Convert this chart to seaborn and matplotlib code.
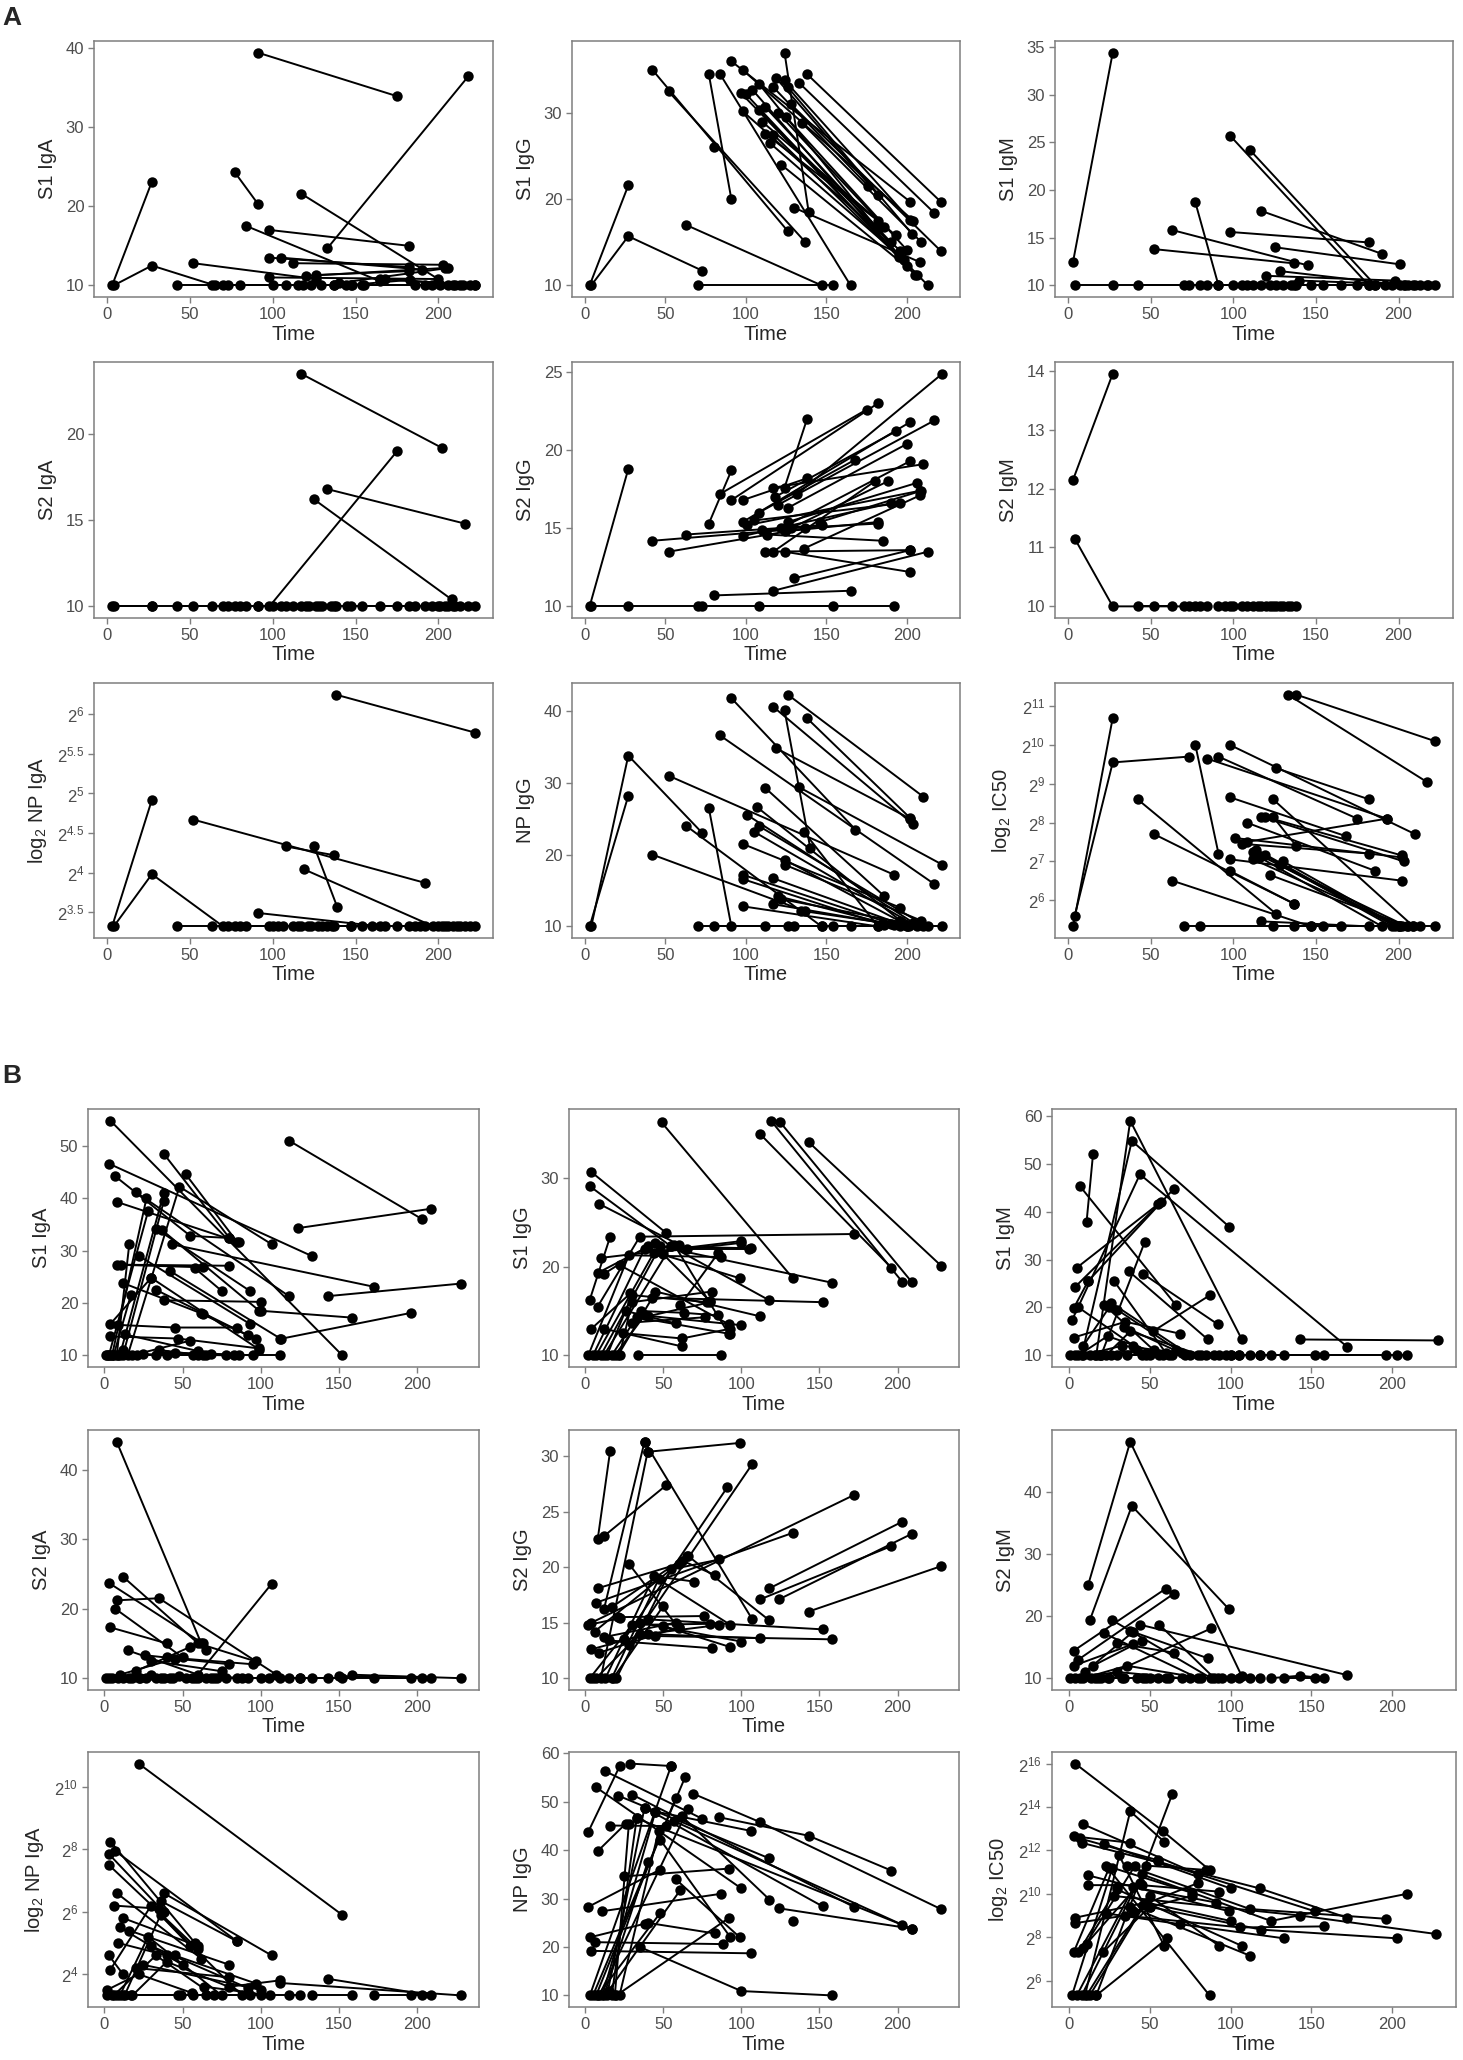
import numpy as np
import pandas as pd
import matplotlib
matplotlib.use("Agg")
import matplotlib.pyplot as plt
import seaborn as sns

sns.set_theme(style="ticks")
plt.rcParams["font.family"] = ["Liberation Sans", "DejaVu Sans"]
plt.rcParams["mathtext.fontset"] = "custom"
plt.rcParams["mathtext.rm"] = "Liberation Sans"
plt.rcParams["mathtext.it"] = "Liberation Sans:italic"


# ---------------- group A (each tuple = one subject: times / values) ----------------
a_s1_iga_t = [(3, 27), (4, 27, 65), (42, 137), (52, 126), (63, 147), (70, 154), (73,), (77, 91),
              (84, 165), (91, 175), (98, 182), (98, 182), (105, 190), (112, 203), (117, 206),
              (120, 204), (126, 182), (133, 218), (140, 206), (148, 210), (155, 213), (165, 222),
              (168, 222), (100, 186), (108, 192), (115, 196), (118, 201), (123, 209), (129, 215),
              (137, 219), (144, 183), (98, 200), (80,)]
a_s1_iga_v = [(10, 23.1), (10, 12.5, 10), (10, 10), (12.8, 10.8), (10, 10), (10, 10), (10,), (24.3, 20.3),
              (17.5, 10.5), (39.4, 33.9), (17, 15), (13.5, 12.3), (13.5, 12), (12.8, 12.6), (21.6, 10),
              (11.2, 12.2), (11.3, 11.8), (14.7, 36.4), (10.3, 12.2), (10, 10), (10, 10), (10.8, 10),
              (10.8, 10), (10, 10), (10, 10), (10, 10), (10, 10), (10, 10), (10, 10),
              (10, 10), (10, 10.7), (11, 10.8), (10,)]

a_s1_igg_t = [(3, 27), (4, 27, 73), (42, 126), (52, 137), (63, 147), (70, 154), (77, 91), (84, 165),
              (80,), (91, 202), (98, 204), (97, 213), (98, 196), (100, 200), (104, 205), (108, 195),
              (108, 182), (112, 190), (112, 182), (117, 176), (117, 195), (119, 182), (120, 186),
              (122, 206), (124, 139), (124, 202), (126, 203), (130, 208), (133, 217), (135, 209),
              (138, 221), (128, 221), (115, 198), (110, 193), (125, 200)]
a_s1_igg_v = [(10, 21.6), (10, 15.7, 11.7), (35, 16.3), (32.5, 15), (17, 10), (10, 10), (34.5, 20), (34.5, 10),
              (26,), (36, 19.7), (35, 17.5), (32.3, 10), (30.2, 14), (32.2, 12.2), (32.7, 11.2), (33.4, 13.5),
              (30.3, 16.5), (30.7, 15), (27.6, 17.5), (33, 21.5), (27.5, 13.3), (34, 20.5), (30, 16.8),
              (24, 11.2), (37, 18.5), (33.8, 17.6), (33, 16), (19, 12.7), (33.5, 18.4), (28.8, 15),
              (34.5, 19.7), (31, 14), (26.5, 13), (29, 15.8), (29.5, 14.1)]

a_s1_igm_t = [(3, 27), (4, 27, 73), (42, 137), (52, 137), (63, 145), (70, 154), (77, 91), (80, 165),
              (84, 175), (98, 182), (98, 182), (110, 186), (117, 190), (125, 201), (91, 182), (100, 186),
              (105, 192), (108, 196), (112, 201), (117, 204), (122, 206), (126, 209), (130, 213),
              (135, 217), (138, 222), (120, 198), (128, 203), (140, 218), (147, 210)]
a_s1_igm_v = [(12.5, 34.4), (10, 10, 10), (10, 10), (13.8, 12.3), (15.8, 12.1), (10, 10), (18.7, 10), (10, 10),
              (10, 10), (25.7, 10), (15.6, 14.5), (24.2, 10), (17.8, 13.3), (14, 12.2), (10, 10), (10, 10),
              (10, 10), (10, 10), (10, 10), (10, 10), (10, 10), (10, 10), (10, 10),
              (10, 10), (10, 10), (11, 10.5), (11.5, 10), (10.5, 10), (10, 10)]

a_s2_iga_t = [(3, 27), (4, 27, 73), (42, 137), (52, 126), (63, 147), (70, 154), (77, 91), (80, 165),
              (84, 175), (98, 175), (117, 202), (125, 208), (133, 216), (91, 182), (100, 186), (105, 192),
              (108, 196), (112, 201), (117, 204), (120, 206), (122, 209), (128, 213), (130, 218),
              (135, 222), (138, 210), (145, 200)]
a_s2_iga_v = [(10, 10), (10, 10, 10), (10, 10), (10, 10), (10, 10), (10, 10), (10, 10), (10, 10),
              (10, 10), (10, 19), (23.5, 19.2), (16.2, 10.4), (16.8, 14.8), (10, 10), (10, 10), (10, 10),
              (10, 10), (10, 10), (10, 10), (10, 10), (10, 10), (10, 10), (10, 10),
              (10, 10), (10, 10), (10, 10)]

a_s2_igg_t = [(3, 27), (4, 27, 73), (70, 154), (108, 192), (42, 125), (52, 137), (63, 147), (77, 91),
              (84, 175), (80, 165), (91, 182), (98, 138), (98, 202), (98, 190), (101, 208), (105, 196),
              (108, 168), (112, 202), (117, 213), (130, 202), (113, 185), (117, 210), (118, 193),
              (120, 217), (124, 138), (124, 182), (124, 202), (126, 200), (126, 206), (132, 222),
              (136, 208), (128, 188), (146, 209), (122, 202), (110, 182), (117, 180)]
a_s2_igg_v = [(10, 18.8), (10, 10, 10), (10, 10), (10, 10), (14.2, 14.9), (13.5, 15), (14.6, 15.2), (15.3, 18.7),
              (17.2, 22.6), (10.7, 11), (16.8, 23), (16.8, 18.2), (15.4, 21.8), (14.5, 16.6), (15.2, 17.4), (15.5, 16.6),
              (16, 19.4), (13.5, 13.6), (11, 13.5), (11.8, 13.6), (14.6, 14.2), (17.6, 19.1), (17, 21.2),
              (16.5, 21.9), (17.6, 22), (14.8, 15.4), (13.5, 12.2), (16.3, 20.4), (15.4, 17.9), (17.2, 24.9),
              (13.7, 17.1), (15, 18), (15.4, 17.4), (15, 19.3), (14.9, 15.3), (13.5, 18)]

a_s2_igm_t = [(3, 27), (4, 27, 73), (42, 63), (52,), (70, 77), (80, 84), (91, 98), (100,), (105, 108),
              (112, 117), (120, 122), (124, 126), (128, 130), (133, 135), (138,), (115,), (95,)]
a_s2_igm_v = [(12.15, 13.95), (11.15, 10, 10), (10, 10), (10,), (10, 10), (10, 10), (10, 10), (10,), (10, 10),
              (10, 10), (10, 10), (10, 10), (10, 10), (10, 10), (10,), (10,), (10,)]

# log2 titres
a_np_iga_t = [(3, 27), (4, 27, 70), (52, 192), (108, 137), (125, 139), (119, 197), (91, 165), (138, 222),
              (42, 137), (63, 147), (73, 154), (77, 160), (80, 168), (84, 175), (98, 182), (100, 186),
              (103, 189), (106, 192), (112, 200), (115, 202), (117, 204), (121, 206), (123, 209),
              (127, 211), (130, 213), (133, 216), (136, 219), (147, 222)]
a_np_iga_v = [(3.32, 4.92), (3.32, 3.98, 3.32), (4.67, 3.87), (4.33, 4.22), (4.33, 3.56), (4.04, 3.32), (3.49, 3.32), (6.25, 5.77),
              (3.32, 3.32), (3.32, 3.32), (3.32, 3.32), (3.32, 3.32), (3.32, 3.32), (3.32, 3.32), (3.32, 3.32), (3.32, 3.32),
              (3.32, 3.32), (3.32, 3.32), (3.32, 3.32), (3.32, 3.32), (3.32, 3.32), (3.32, 3.32), (3.32, 3.32),
              (3.32, 3.32), (3.32, 3.32), (3.32, 3.32), (3.32, 3.32), (3.32, 3.32)]

a_np_igg_t = [(3, 27), (4, 27, 73), (42, 137), (52, 192), (63, 147), (77, 91), (70, 154), (80, 165),
              (84, 217), (91, 168), (98, 196), (98, 190), (98, 186), (98, 182), (101, 204), (105, 206),
              (107, 196), (108, 209), (112, 186), (117, 204), (117, 200), (117, 192), (119, 202),
              (120, 185), (122, 210), (124, 140), (124, 200), (124, 209), (126, 210), (133, 222),
              (136, 182), (138, 202), (134, 200), (112, 196), (126, 213), (130, 222), (147, 201)]
a_np_igg_v = [(10, 28.2), (10, 33.8, 23), (20, 12.1), (31, 17.2), (24, 10), (26.5, 10), (10, 10), (10, 10),
              (36.6, 15.9), (41.8, 23.5), (21.5, 12.6), (17.2, 10.4), (16.6, 10.2), (12.8, 10), (25.5, 10.5), (23.2, 10),
              (26.6, 10.8), (24, 10.4), (29.3, 14.2), (40.6, 24.2), (16.7, 10), (13.1, 10.2), (34.8, 25),
              (14.2, 10.5), (13.8, 10), (40.1, 20.9), (19.3, 10.2), (18.6, 10.8), (42.3, 28.1), (29.4, 18.6),
              (23.2, 10), (39, 25.1), (12.2, 10), (10, 10), (10, 10), (10, 10), (10, 10)]

a_ic50_t = [(3, 27), (4, 27, 73), (42, 126), (52, 137), (63, 147), (70, 80, 154), (77, 91), (84, 193),
            (91, 175), (98, 210), (126, 182), (98, 168), (98, 202), (98, 137), (101, 202), (105, 182),
            (108, 186), (108, 193), (112, 200), (112, 202), (117, 203), (119, 202), (119, 196),
            (122, 206), (124, 209), (124, 138), (130, 200), (133, 217), (138, 222), (117, 182),
            (124, 209), (137, 213), (147, 201), (165, 222), (128, 205), (114, 198), (116, 190)]
a_ic50_v = [(5.32, 10.7), (5.6, 9.55, 9.7), (8.6, 5.64), (7.7, 5.9), (6.5, 5.32), (5.32, 5.32, 5.32), (10, 7.2), (9.65, 8.1),
            (9.7, 8.1), (10, 7.7), (9.4, 8.6), (8.65, 7.65), (7.05, 6.5), (6.75, 5.9), (7.6, 7.1), (7.45, 7.2),
            (8.0, 6.75), (7.5, 8.1), (7.25, 5.32), (7.05, 5.32), (8.15, 7.0), (8.15, 7.15), (7.15, 5.32),
            (6.65, 5.32), (8.6, 5.32), (8.15, 7.4), (7.0, 5.32), (11.3, 9.05), (11.3, 10.1), (5.45, 5.32),
            (5.32, 5.32), (5.32, 5.32), (5.32, 5.32), (5.32, 5.32), (6.9, 5.32), (7.3, 5.32), (7.1, 5.32)]

# ---------------- group B ----------------
b_s1_iga_t = [(4, 152), (3, 133), (7, 55, 80), (8, 86), (20, 118), (38, 80), (52, 85), (15, 48, 107),
              (5, 27), (10, 38), (12, 38), (8, 16), (8, 63), (11, 80), (12, 62), (3, 28), (33, 93),
              (37, 99), (43, 172), (42, 113), (30, 99), (22, 93), (33, 92), (38, 100), (63, 97),
              (143, 228), (124, 209), (118, 203), (112, 196), (100, 158), (4, 30), (9, 45, 85),
              (4, 47, 99), (2, 60, 112), (5, 18, 55), (21, 33, 65), (6, 17), (13, 60), (40, 57, 86),
              (25, 78), (35, 63), (45, 83), (68, 95), (58, 75), (3, 12), (1, 9)]
b_s1_iga_v = [(54.8, 10), (46.6, 28.9), (44.2, 32.8, 32.4), (39.3, 31.6), (41.2, 21.3), (48.5, 32.4), (44.6, 31.6), (10, 42.2, 31.2),
              (10, 40), (10, 41), (10, 39.4), (10, 31.2), (27.3, 26.8), (27.3, 27.1), (23.8, 18), (10, 37.5), (34.2, 22.3),
              (33.9, 18.5), (31.2, 23.1), (26.1, 13.1), (24.8, 11.1), (29, 16), (22.5, 13.8), (20.5, 20.2), (17.8, 13.1),
              (21.3, 23.7), (34.3, 38), (51, 36), (13.1, 18.1), (18.5, 17.2), (16, 24.8), (15.8, 15.3, 15.3),
              (13.6, 13.2, 11.3), (10, 10, 10), (10, 10, 12.8), (10, 10, 10), (10, 21.5), (14, 10.8), (10, 10, 10),
              (10.2, 10), (11, 10), (10.5, 10), (10.3, 10), (26.6, 22.3), (10, 11), (10, 10)]

b_s1_igg_t = [(4, 52), (3, 55), (9, 60), (49, 133), (112, 196), (119, 203), (125, 209), (143, 228),
              (3, 16), (10, 100), (8, 45), (12, 40, 106), (22, 92), (8, 35, 172), (4, 29), (12, 62),
              (2, 28, 87), (5, 38, 99), (7, 44, 100), (10, 48, 158), (12, 55, 118), (14, 30, 78),
              (17, 33, 93), (19, 38, 100), (21, 43, 152), (22, 30, 81), (34, 87), (24, 62, 93),
              (26, 58), (36, 63, 85), (30, 77), (45, 112), (50, 80), (57, 92), (65, 105), (61, 85), (40, 80)]
b_s1_igg_v = [(30.7, 23.8), (29.1, 22.3), (27.1, 22.5), (36.3, 18.7), (35, 19.9), (36.5, 18.3), (36.3, 18.3), (34.1, 20.1),
              (16.3, 23.4), (21, 22.9), (19.3, 22.7), (19.2, 22.3, 22.1), (20.2, 13.5), (15.5, 23.4, 23.7), (13, 17), (13, 11),
              (10, 21.3, 21.1), (10, 22, 18.7), (10, 21.6, 22.7), (10, 22.3, 18.2), (10, 22.3, 16.2), (10, 16.8, 16),
              (10, 14.3, 12.4), (10, 14.5, 13.4), (10, 16.5, 16), (10, 16, 17.2), (10, 10), (12.5, 11.9, 13),
              (15, 13.6), (15, 14.8, 14.5), (13.7, 14.3), (17.2, 14.4), (21.4, 16.1), (22.5, 12.4), (22, 22), (15.7, 21.5), (14.4, 16)]

b_s1_igm_t = [(17, 38, 107), (8, 39, 99), (2, 44, 172), (11, 15), (7, 66), (5, 55), (4, 57), (12, 65),
              (3, 12), (143, 228), (20, 47), (37, 86), (46, 92), (52, 87), (3, 35, 69), (28, 60),
              (22, 56), (26, 75), (30, 70), (34, 66), (6, 40), (9, 25), (1, 20, 50), (4, 30, 64),
              (6, 24, 58), (9, 33, 80), (13, 42, 90), (16, 48, 100), (19, 53, 105), (23, 38, 82),
              (26, 45, 93), (36, 62, 112), (97, 152, 209), (118, 196), (105, 203), (125, 158), (133,),
              (72, 118), (85, 100)]
b_s1_igm_v = [(10, 59, 13.3), (10, 54.8, 36.9), (17.3, 47.8, 11.8), (37.8, 52), (45.3, 20.6), (28.3, 41.5), (24.3, 42), (25.5, 44.8),
              (19.8, 25.5), (13.3, 13.1), (10, 33.7), (27.6, 13.3), (27, 16.5), (15, 22.5), (13.7, 17, 14.5), (25.5, 10.5),
              (20.5, 10), (21, 10), (19.5, 10.5), (16, 11), (20, 12), (12, 20), (10, 10, 10), (10, 10, 10),
              (10, 14, 10), (10, 12, 10), (10, 11, 10), (10, 10, 10), (10, 11, 10), (10, 15, 10),
              (10, 10, 10), (10, 10, 10), (10, 10, 10), (10, 10), (10, 10), (10, 10), (10,),
              (10, 10), (10, 10)]

b_s2_iga_t = [(8, 62), (3, 63), (12, 65), (8, 35, 110), (58, 107), (7, 50), (4, 40), (15, 60), (26, 80),
              (40, 95), (20, 55), (30, 75), (10, 45), (1, 23, 65), (3, 30, 70), (5, 38, 85), (9, 44, 92),
              (12, 48, 100), (16, 52, 105), (18, 56, 112), (22, 60, 118), (27, 68, 125), (33, 72, 133),
              (36, 78, 143), (42, 88, 152), (150, 203, 209), (158, 228), (125, 196), (172,), (60, 97)]
b_s2_iga_v = [(44, 15), (23.7, 15), (24.6, 14), (21.2, 21.5, 10.5), (10, 23.6), (20, 13), (17.3, 15), (14, 10.5), (13.3, 12),
              (13, 12), (11, 14.5), (12.5, 11), (10.5, 12.8), (10, 10, 10), (10, 10.5, 10), (10, 10, 10), (10, 10, 10),
              (10, 10.3, 10), (10, 10, 10), (10, 10, 10), (10, 10, 10), (10, 10, 10), (10, 10, 10),
              (10, 10, 10), (10, 10, 10), (10.3, 10, 10), (10.5, 10), (10, 10), (10,), (15, 12.4)]

b_s2_igg_t = [(38, 107), (40, 99), (8, 16), (12, 52), (12, 38), (10, 40), (28, 107), (25, 91), (4, 172),
              (7, 133), (8, 60), (28, 60), (112, 196), (118, 203), (124, 209), (143, 228), (66, 118),
              (40, 152), (45, 158), (21, 76), (35, 100), (50, 93), (15, 81), (4, 40, 86), (9, 60),
              (17, 47, 93), (3, 30, 80), (7, 35, 112), (13, 44, 70), (20, 55, 86), (6, 62, 83), (12, 58),
              (2, 22), (5, 18, 50), (17, 65)]
b_s2_igg_v = [(31.3, 15.3), (30.4, 31.2), (22.5, 30.5), (22.8, 27.4), (16.2, 31.3), (10, 30.4), (13, 29.3), (13.5, 27.2), (15, 26.5),
              (16.8, 23.1), (18.1, 20.3), (20.3, 14.5), (17.1, 21.9), (18.1, 24.1), (17.1, 23), (16, 20.1), (21, 15.2),
              (15.3, 14.4), (13.8, 13.5), (15.5, 15.6), (15, 13.3), (14.7, 12.8), (13.4, 12.7), (12.6, 14, 14.8), (12.3, 14.6),
              (10, 18.9, 14.8), (10, 14.8, 14.9), (10, 14, 13.6), (10, 19.2, 18.7), (10, 19.8, 20.7), (14.2, 20.6, 19.3), (13.7, 15),
              (14.8, 15.4), (10, 10, 16.5), (16.4, 21)]

b_s2_igm_t = [(12, 38, 107), (13, 39, 99), (3, 60), (6, 65), (22, 80), (27, 88), (44, 172), (56, 90),
              (20, 88), (30, 65), (38, 86), (3, 40), (1, 25, 60), (4, 30, 70), (7, 33, 75), (9, 36, 82),
              (14, 42, 92), (16, 46, 95), (18, 50, 100), (24, 55, 105), (34, 62, 112), (48, 118),
              (125, 143, 158), (133, 152), (10, 40), (15, 45)]
b_s2_igm_v = [(25, 48, 10.3), (19.3, 37.7, 21.1), (14.4, 24.4), (13, 23.6), (17.2, 10), (19.3, 10), (18.6, 10.5), (18.6, 10),
              (10, 18), (15.6, 14.1), (17.6, 13.2), (12, 15.5), (10, 10, 10), (10, 11, 10), (10, 10, 10), (10, 12, 10),
              (10, 10, 10), (10, 10, 10), (10, 10, 10), (10, 10, 10), (10, 10, 10), (10, 10),
              (10, 10.4, 10), (10, 10), (11, 17.5), (12, 16)]

# log2 titres
b_np_iga_t = [(22, 152), (4, 58), (3, 38), (7, 85), (3, 60), (8, 62), (6, 35), (38, 107), (36, 85),
              (12, 60), (10, 50), (16, 80), (9, 40), (4, 30, 55), (143, 209), (112, 228), (20, 80),
              (30, 92), (25, 100), (45, 97), (3, 12), (2, 17, 47), (5, 12, 65), (8, 49, 100),
              (6, 33, 70), (10, 28, 75), (13, 36, 88), (18, 40, 93), (2, 22, 56), (57, 118, 125),
              (133, 158), (172, 196, 203), (64, 106), (80, 112)]
b_np_iga_v = [(10.75, 5.9), (8.25, 5.0), (7.85, 6.0), (7.95, 5.05), (7.5, 4.8), (6.6, 4.5), (6.2, 6.1), (6.6, 4.6), (6.35, 5.05),
              (5.8, 4.9), (5.5, 4.3), (5.4, 4.3), (5.0, 4.6), (4.15, 6.2, 4.9), (3.85, 3.32), (3.72, 3.32), (4.2, 3.9),
              (4.9, 3.55), (4.3, 3.5), (4.6, 3.7), (4.6, 4.0), (3.32, 3.32, 3.32), (3.32, 3.32, 3.32), (3.32, 3.32, 3.32),
              (3.32, 4.6, 3.32), (3.32, 5.2, 3.32), (3.32, 5.9, 3.32), (3.32, 4.4, 3.32), (3.5, 4.0, 3.4), (3.32, 3.32, 3.32),
              (3.32, 3.32), (3.32, 3.32, 3.32), (3.6, 3.32), (3.6, 3.8)]

b_np_igg_t = [(2, 22), (13, 75), (29, 55), (7, 100), (21, 118), (30, 172), (69, 112, 228), (86, 143, 196),
              (38, 152), (45, 106), (33, 209), (57, 203), (62, 118), (124, 209), (133,), (8, 26), (16, 52),
              (2, 48), (3, 38), (4, 106), (35, 100, 158), (6, 88), (11, 87), (25, 92), (48, 93), (58, 99),
              (40, 83), (3, 55), (5, 64), (7, 58), (9, 66), (11, 45), (14, 38), (17, 33), (19, 28),
              (22, 47), (12, 40), (8, 48), (15, 61), (20, 92)]
b_np_igg_v = [(43.8, 57.3), (56.3, 46.5), (57.9, 57.4), (53, 32.1), (51.3, 38.3), (51.5, 28.3), (51.7, 45.8, 27.8), (46.8, 43, 35.8),
              (48.8, 28.4), (48, 44), (46.6, 23.8), (46, 24.6), (47, 29.8), (28, 23.8), (25.3,), (39.8, 45.5), (45.1, 45),
              (28.3, 36), (22, 24.8), (19.2, 18.7), (20, 10.9, 10), (21, 20.6), (27.4, 31), (34.6, 36.2), (42.2, 22), (34, 22),
              (25, 22.8), (10, 57.4), (10, 55.1), (10, 50.8), (10, 48.6), (10, 48), (10, 48.8), (10, 46.6), (10, 45.5),
              (10, 44), (10, 37.5), (10, 27), (11, 31.8), (10, 26)]

b_ic50_t = [(4, 58, 87), (10, 38, 59), (17, 64), (9, 80), (3, 38), (7, 55), (8, 118, 172), (22, 100),
            (31, 59), (23, 87), (12, 99), (12, 45, 93), (4, 48, 100), (4, 35, 106, 158), (3, 25), (6, 30),
            (9, 41), (11, 44), (21, 50), (2, 27, 76), (5, 40, 91), (8, 48, 85), (11, 46, 80), (13, 50, 93),
            (17, 61), (23, 69, 133), (30, 107), (38, 112), (50, 119, 203), (45, 125, 209), (28, 143, 227),
            (36, 112, 196), (55, 152), (40, 76)]
b_ic50_v = [(16.0, 12.9, 11.1), (5.32, 13.8, 12.4), (5.32, 14.6), (13.2, 10.9), (12.65, 12.35), (12.55, 11.55), (12.35, 10.25, 8.9), (12.3, 10.25),
            (11.8, 7.6), (11.3, 5.32), (10.85, 9.2), (10.4, 10.4, 10.1), (8.9, 9.6, 8.75), (8.65, 9.0, 8.45, 8.5), (7.3, 11.2), (7.3, 10.3),
            (7.5, 11.3), (7.7, 10.5), (7.3, 9.4), (5.32, 11.2, 10.05), (5.32, 10.3, 9.6), (5.32, 11.3, 11.1), (5.32, 9.5, 10.5), (5.32, 9.9, 7.6),
            (5.32, 7.95), (9.1, 8.6, 7.95), (10.2, 7.6), (9.4, 7.15), (9.4, 8.35, 7.95), (10.9, 8.75, 10.0), (9.9, 9.0, 8.15),
            (11.3, 9.3, 8.85), (11.5, 9.2), (9.2, 9.9)]

# panel order, y labels and y ticks
ylabels = ["S1 IgA", "S1 IgG", "S1 IgM", "S2 IgA", "S2 IgG", "S2 IgM", "log$_2$ NP IgA", "NP IgG", "log$_2$ IC50"]

a_panels = [(a_s1_iga_t, a_s1_iga_v, [10, 20, 30, 40]),
            (a_s1_igg_t, a_s1_igg_v, [10, 20, 30]),
            (a_s1_igm_t, a_s1_igm_v, [10, 15, 20, 25, 30, 35]),
            (a_s2_iga_t, a_s2_iga_v, [10, 15, 20]),
            (a_s2_igg_t, a_s2_igg_v, [10, 15, 20, 25]),
            (a_s2_igm_t, a_s2_igm_v, [10, 11, 12, 13, 14]),
            (a_np_iga_t, a_np_iga_v, [3.5, 4, 4.5, 5, 5.5, 6]),
            (a_np_igg_t, a_np_igg_v, [10, 20, 30, 40]),
            (a_ic50_t, a_ic50_v, [6, 7, 8, 9, 10, 11])]
b_panels = [(b_s1_iga_t, b_s1_iga_v, [10, 20, 30, 40, 50]),
            (b_s1_igg_t, b_s1_igg_v, [10, 20, 30]),
            (b_s1_igm_t, b_s1_igm_v, [10, 20, 30, 40, 50, 60]),
            (b_s2_iga_t, b_s2_iga_v, [10, 20, 30, 40]),
            (b_s2_igg_t, b_s2_igg_v, [10, 15, 20, 25, 30]),
            (b_s2_igm_t, b_s2_igm_v, [10, 20, 30, 40]),
            (b_np_iga_t, b_np_iga_v, [4, 6, 8, 10]),
            (b_np_igg_t, b_np_igg_v, [10, 20, 30, 40, 50, 60]),
            (b_ic50_t, b_ic50_v, [6, 8, 10, 12, 14, 16])]


def to_long(times, vals):
    rows = []
    for i, (ts, vs) in enumerate(zip(times, vals)):
        for t, v in zip(ts, vs):
            rows.append((i, t, v))
    return pd.DataFrame(rows, columns=["id", "Time", "value"])


def fmt_pow(k):
    k = float(k)
    s = str(int(k)) if k.is_integer() else str(k)
    return "$2^{" + s + "}$"


W, H = 1463, 2060
fig = plt.figure(figsize=(W / 100, H / 100), dpi=100)

# pixel boxes for each group: column x-ranges, row y-ranges
layout = {
    "A": ([(94, 493), (572, 960), (1055, 1453)], [(41, 297), (362, 618), (683, 938)], a_panels, 25),
    "B": ([(88, 479), (569, 959), (1052, 1456)], [(1109, 1367), (1430, 1690), (1752, 2007)], b_panels, 1083),
}

for tag, (cols, rows, panels, tag_y) in layout.items():
    all_t = [t for p in panels for subj in p[0] for t in subj]
    tmin, tmax = min(all_t), max(all_t)
    pad = 0.05 * (tmax - tmin)
    for k, (times, vals, yt) in enumerate(panels):
        (x0, x1), (y0, y1) = cols[k % 3], rows[k // 3]
        ax = fig.add_axes([x0 / W, 1 - y1 / H, (x1 - x0) / W, (y1 - y0) / H])
        df = to_long(times, vals)
        sns.lineplot(data=df, x="Time", y="value", units="id", estimator=None,
                     color="black", linewidth=1.4, marker="o", markersize=7.5,
                     markeredgewidth=0, legend=False, ax=ax)
        ax.set_xlim(tmin - pad, tmax + pad)
        ax.set_xticks([0, 50, 100, 150, 200])
        ax.set_yticks(yt)
        if "log" in ylabels[k]:
            ax.set_yticklabels([fmt_pow(v) for v in yt])
        ax.set_xlabel("Time", fontsize=14.5, labelpad=2)
        ax.set_ylabel(ylabels[k], fontsize=14.5, labelpad=6)
        ax.tick_params(length=4, width=1.0, color="#7f7f7f", labelcolor="#4d4d4d",
                       labelsize=12, pad=3)
        for sp in ax.spines.values():
            sp.set_visible(True)
            sp.set_color("#7f7f7f")
            sp.set_linewidth(1.1)
        ax.grid(False)
    fig.text(2 / W, 1 - tag_y / H, tag, fontsize=19, fontweight="bold", ha="left", va="baseline")

fig.savefig("out.png", dpi=100, facecolor="white")
